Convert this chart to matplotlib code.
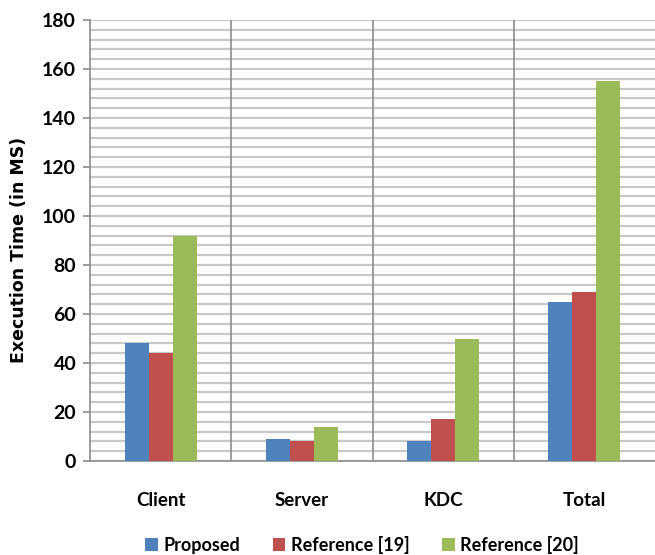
import matplotlib
matplotlib.use("Agg")
import matplotlib.pyplot as plt
import numpy as np
from matplotlib.ticker import MultipleLocator

plt.rcParams['font.family'] = ['Lato', 'DejaVu Sans']

categories = ["Client", "Server", "KDC", "Total"]
series_names = ["Proposed", "Reference [19]", "Reference [20]"]
proposed = [48, 9, 8, 65]
reference_19 = [44, 8, 17, 69]
reference_20 = [92, 14, 50, 155]
y_ticks = [0, 20, 40, 60, 80, 100, 120, 140, 160, 180]

colors = ["#4F81BD", "#C0504D", "#9BBB59"]

fig = plt.figure(figsize=(6.55, 5.55), dpi=100)
ax = fig.add_axes([90 / 655, 1 - 461 / 555, 565 / 655, 441 / 555])

x = np.arange(len(categories))
bar_w = 0.17
for i, (vals, name, c) in enumerate(zip([proposed, reference_19, reference_20], series_names, colors)):
    ax.bar(x + (i - 1) * bar_w, vals, width=bar_w, color=c, label=name, zorder=3)

ax.set_xlim(-0.5, 3.5)
ax.set_ylim(0, 180)
ax.set_yticks(y_ticks)
ax.yaxis.set_minor_locator(MultipleLocator(4))
ax.grid(axis='y', which='both', color='#C8C8C8', linewidth=1.6, zorder=0)

# vertical separators between categories
for b in [0.5, 1.5, 2.5]:
    ax.axvline(b, color='#8C8C8C', linewidth=1.2, zorder=2)

ax.set_xticks(x)
ax.set_xticklabels(categories)
ax.tick_params(axis='x', length=0, pad=22, labelsize=13.5)
ax.tick_params(axis='y', which='major', length=5, color='#8C8C8C', width=1.2, labelsize=14, pad=5)
ax.tick_params(axis='y', which='minor', length=0)
for lbl in ax.get_xticklabels() + ax.get_yticklabels():
    lbl.set_fontweight('bold')

for s in ['top', 'right']:
    ax.spines[s].set_visible(False)
for s in ['left', 'bottom']:
    ax.spines[s].set_color('#8C8C8C')
    ax.spines[s].set_linewidth(1.2)

ax.set_ylabel("Execution Time (in MS)", fontsize=12.5, fontweight='bold',
              family=['DejaVu Sans'])
ax.yaxis.set_label_coords(-62 / 565, (461 - 250) / 441)

leg = fig.legend(loc='center', bbox_to_anchor=(362 / 655, 1 - 545 / 555), ncol=3,
                 frameon=False, fontsize=13, handlelength=0.7, handleheight=0.7,
                 handletextpad=0.3, columnspacing=1.8)
for t in leg.get_texts():
    t.set_fontweight('bold')

fig.savefig("out.png", dpi=100)
